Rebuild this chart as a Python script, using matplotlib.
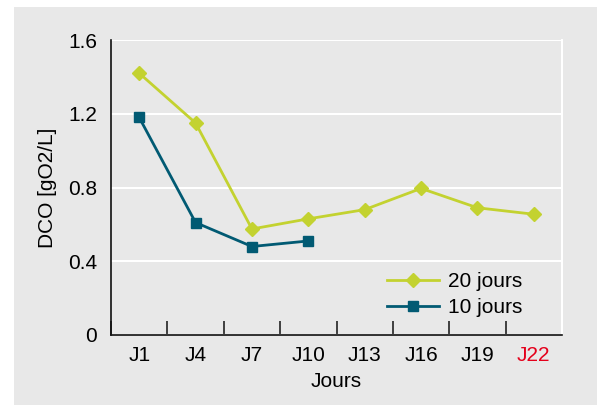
import matplotlib
matplotlib.use("Agg")
import matplotlib.pyplot as plt
from matplotlib.patches import Rectangle

plt.rcParams['font.family'] = ['Liberation Sans', 'DejaVu Sans']

categories = ["J1", "J4", "J7", "J10", "J13", "J16", "J19", "J22"]
serie_20 = [1.42, 1.15, 0.575, 0.63, 0.68, 0.795, 0.69, 0.655]
serie_10 = [1.18, 0.61, 0.48, 0.51]
yticks = [0, 0.4, 0.8, 1.2, 1.6]
ytick_labels = ["0", "0.4", "0.8", "1.2", "1.6"]

BG = "#E8E8E8"
LIME = "#C3D230"
TEAL = "#015A73"
FS = 15

fig = plt.figure(figsize=(5.99, 4.05), dpi=100)
fig.patch.set_facecolor("white")
fig.patches.append(Rectangle((14/599, 0), (597-14)/599, (405-7)/405,
                             transform=fig.transFigure, facecolor=BG,
                             edgecolor="none", zorder=-10))

ax = fig.add_axes([111/599, (405-335)/405, (562-111)/599, (335-40)/405])
ax.set_facecolor(BG)

x = list(range(len(categories)))
ax.plot(x, serie_20, color=LIME, lw=2, marker="D", ms=7, label="20 jours", zorder=3, clip_on=False)
ax.plot(x[:len(serie_10)], serie_10, color=TEAL, lw=2, marker="s", ms=7, label="10 jours", zorder=3, clip_on=False)

ax.set_xlim(-0.5, len(categories) - 0.5)
ax.set_ylim(0, 1.6)
ax.set_yticks(yticks)
ax.set_yticklabels(ytick_labels, fontsize=FS)
ax.yaxis.grid(True, color="white", lw=1.5)
ax.set_axisbelow(True)
ax.tick_params(axis="y", length=0, pad=10)

ax.set_xticks([i + 0.5 for i in range(-1, len(categories))], minor=False)
ax.set_xticklabels([])
ax.set_xticks(x, minor=True)
ax.set_xticklabels(categories, minor=True, fontsize=FS)
ax.tick_params(axis="x", which="major", direction="in", length=10, width=1.2, color="#222222")
ax.tick_params(axis="x", which="minor", length=0, pad=8)
for lbl in ax.get_xticklabels(minor=True):
    if lbl.get_text() == "J22":
        lbl.set_color("#E4001B")

ax.spines["top"].set_visible(False)
ax.spines["right"].set_color("white")
ax.spines["right"].set_linewidth(1.5)
ax.spines["left"].set_color("#111111")
ax.spines["bottom"].set_color("#111111")
ax.spines["left"].set_linewidth(1.2)
ax.spines["bottom"].set_linewidth(1.2)

ax.set_xlabel("Jours", fontsize=FS, labelpad=5)
ax.set_ylabel("DCO [gO2/L]", fontsize=FS, labelpad=8)

leg = ax.legend(loc="lower right", bbox_to_anchor=(0.913, 0.06), frameon=False,
                fontsize=FS, handlelength=2.5, handletextpad=0.45, labelspacing=0.35,
                borderpad=0, borderaxespad=0)

fig.savefig("out.png", dpi=100, facecolor="white")
